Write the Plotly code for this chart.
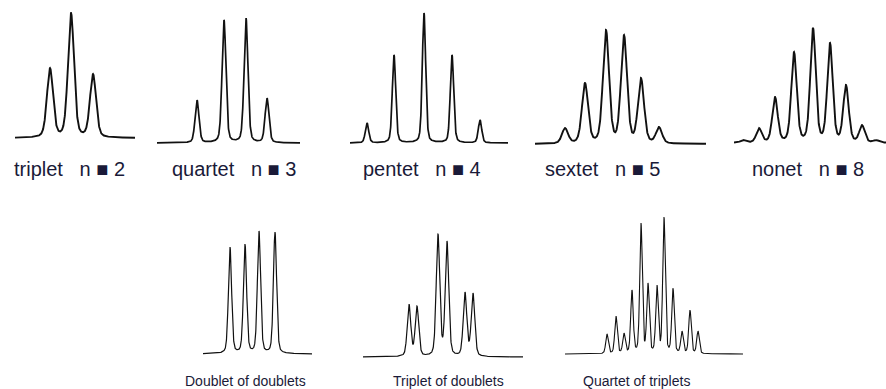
import numpy as np
import plotly.graph_objects as go

# ---- data: peak offsets (from panel left) and peak heights ----
triplet_pos = [35, 56, 78]
triplet_h = [70, 125, 64]

quartet_pos = [40, 67, 89, 110]
quartet_h = [43, 123, 125, 45]

pentet_pos = [17, 44, 74, 102, 130]
pentet_h = [20, 88, 130, 88, 23]

sextet_pos = [30, 50, 71, 89, 106, 124]
sextet_h = [16, 61, 114, 109, 66, 17]

nonet_pos = [9, 25, 41, 60, 79, 96, 112, 128, 142]
nonet_h = [3, 15, 46, 91, 115, 100, 58, 18, 3]

dd_pos = [27, 42, 56, 72]
dd_h = [107, 110, 123, 122]

td_pos = [46, 54, 75, 84, 102, 110]
td_h = [53, 51, 123, 116, 65, 64]

qt_pos = [42, 51, 59, 67, 76, 83, 92, 99, 108, 117, 125, 133]
qt_h = [20, 38, 21, 64, 131, 71, 69, 137, 66, 23, 44, 23]

labels_top = ["triplet\u00a0\u00a0\u00a0n\u00a0■\u00a02",
              "quartet\u00a0\u00a0\u00a0n\u00a0■\u00a03",
              "pentet\u00a0\u00a0\u00a0n\u00a0■\u00a04",
              "sextet\u00a0\u00a0\u00a0n\u00a0■\u00a05",
              "nonet\u00a0\u00a0\u00a0n\u00a0■\u00a08"]
labels_bottom = ["Doublet of doublets", "Triplet of doublets", "Quartet of triplets"]

W, H = 886, 389

# panel layout: (x0, x1, row, baseline_px, hwhm, linewidth)
panels = [
    (triplet_pos, triplet_h, 15, 135, 0, 138, 3.6, 1.9),
    (quartet_pos, quartet_h, 157, 300, 0, 143, 2.3, 1.7),
    (pentet_pos, pentet_h, 350, 508, 0, 143, 2.0, 1.7),
    (sextet_pos, sextet_h, 535, 706, 0, 144, 3.6, 1.9),
    (nonet_pos, nonet_h, 734, 886, 0, 143, 3.2, 1.9),
    (dd_pos, dd_h, 203, 312, 1, 354, 1.9, 1.2),
    (td_pos, td_h, 363, 523, 1, 357, 2.1, 1.2),
    (qt_pos, qt_h, 565, 743, 1, 354, 1.5, 1.1),
]
row_px = {0: (150, 5), 1: (362, 205)}  # (bottom px, top px)


def shape(x, c, w, eta=0.3):
    lor = w * w / ((x - c) ** 2 + w * w)
    sig = w / 1.1774
    gau = np.exp(-0.5 * ((x - c) / sig) ** 2)
    return eta * lor + (1 - eta) * gau


fig = go.Figure()
layout = dict(width=W, height=H, margin=dict(l=0, r=0, t=0, b=0),
              paper_bgcolor="white", plot_bgcolor="rgba(0,0,0,0)",
              showlegend=False)

for i, (pos, hts, x0, x1, row, base, w, lw) in enumerate(panels):
    k = "" if i == 0 else str(i + 1)
    pos = np.array(pos, float)
    hts = np.array(hts, float)
    A = np.array([[shape(pi, pj, w) for pj in pos] for pi in pos])
    amp = np.linalg.solve(A, hts)
    xs = np.linspace(0, x1 - x0, 900)
    ys = sum(a * shape(xs, c, w) for a, c in zip(amp, pos))
    fig.add_trace(go.Scatter(x=xs, y=ys, mode="lines",
                             line=dict(color="#111111", width=lw),
                             xaxis="x" + k, yaxis="y" + k, hoverinfo="skip"))
    bpx, tpx = row_px[row]
    layout["xaxis" + k] = dict(domain=[x0 / W, x1 / W], range=[0, x1 - x0],
                               visible=False, anchor="y" + k, fixedrange=True)
    layout["yaxis" + k] = dict(domain=[(H - bpx) / H, (H - tpx) / H],
                               range=[-(bpx - base), (bpx - tpx) - (bpx - base)],
                               visible=False, anchor="x" + k, fixedrange=True)

ann = []
top_centers = [69, 234, 422, 602, 808]
for t, cx in zip(labels_top, top_centers):
    ann.append(dict(text=t, x=cx / W, y=(H - 169) / H, xref="paper", yref="paper",
                    xanchor="center", yanchor="middle", showarrow=False,
                    font=dict(family="Liberation Sans", size=20, color="#1a1a38")))
bot_centers = [246, 448, 636]
for t, cx in zip(labels_bottom, bot_centers):
    ann.append(dict(text=t, x=cx / W, y=(H - 381) / H, xref="paper", yref="paper",
                    xanchor="center", yanchor="middle", showarrow=False,
                    font=dict(family="Liberation Sans", size=14, color="#1a1a38")))
layout["annotations"] = ann

fig.update_layout(**layout)
fig.write_html("out.html", config={"displayModeBar": False},
               post_script="document.body.style.margin='0';document.body.style.overflow='hidden';")
